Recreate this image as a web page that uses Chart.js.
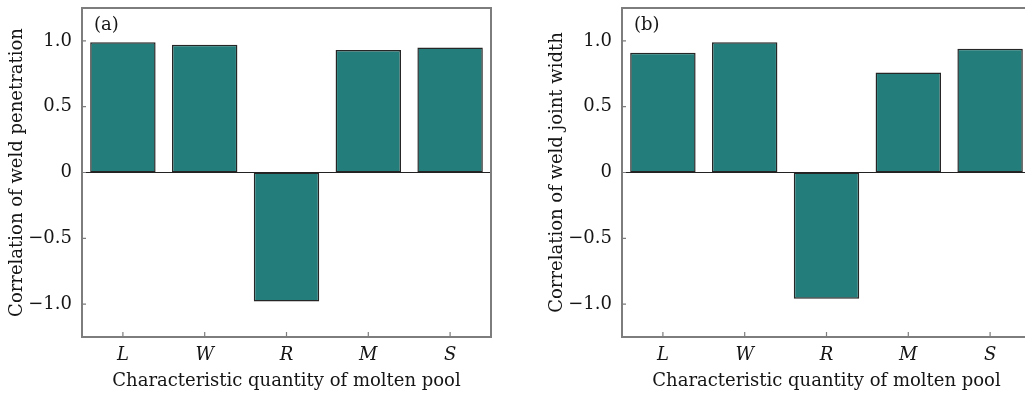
<!DOCTYPE html>
<html>
<head>
<meta charset="utf-8">
<script src="https://cdn.jsdelivr.net/npm/chart.js@4.4.1/dist/chart.umd.min.js"></script>
<style>
  html, body { margin: 0; padding: 0; background: #fff; overflow: hidden; width: 1025px; height: 396px; }
  .panel { position: absolute; top: 0; }
  #pa { left: 0; }
  #pb { left: 540px; }
</style>
</head>
<body>
<div class="panel" id="pa"><canvas id="ca" width="520" height="396"></canvas></div>
<div class="panel" id="pb"><canvas id="cb" width="520" height="396"></canvas></div>
<script>
// ---- data ----
const categories = ['L', 'W', 'R', 'M', 'S'];
const penetrationCorr = [0.99, 0.97, -0.98, 0.93, 0.95];
const widthCorr = [0.91, 0.99, -0.96, 0.76, 0.94];
const yTickValues = [-1.0, -0.5, 0, 0.5, 1.0];
const yTickLabels = ['\u22121.0', '\u22120.5', '0', '0.5', '1.0'];

const FONT = '"DejaVu Serif", "Liberation Serif", serif';
const BAR_COLOR = '#237e7b';
const FRAME_COLOR = '#7d7d7d';
const TEXT_COLOR = '#151515';

const framePlugin = {
  id: 'frame',
  afterDatasetsDraw(chart, args, opts) {
    const { ctx, chartArea: a, scales } = chart;
    ctx.save();
    const y0 = scales.y.getPixelForValue(0);
    ctx.strokeStyle = '#222';
    ctx.lineWidth = 1.2;
    ctx.beginPath();
    ctx.moveTo(a.left, y0);
    ctx.lineTo(a.right, y0);
    ctx.stroke();
    ctx.strokeStyle = FRAME_COLOR;
    ctx.lineWidth = 2;
    ctx.strokeRect(a.left, a.top, a.right - a.left, a.bottom - a.top);
    ctx.lineWidth = 1.2;
    ctx.beginPath();
    scales.y.ticks.forEach((t) => {
      const y = scales.y.getPixelForValue(t.value);
      ctx.moveTo(a.left, y);
      ctx.lineTo(a.left + 4, y);
    });
    categories.forEach((c, i) => {
      const x = scales.x.getPixelForValue(i);
      ctx.moveTo(x, a.bottom);
      ctx.lineTo(x, a.bottom - 5);
    });
    ctx.stroke();
    ctx.fillStyle = TEXT_COLOR;
    ctx.font = '18px ' + FONT;
    ctx.textBaseline = 'middle';
    ctx.textAlign = 'left';
    ctx.fillText(opts.label, a.left + 12, a.top + 17);
    ctx.restore();
  }
};

function makeChart(id, values, yTitle, label) {
  return new Chart(document.getElementById(id), {
    type: 'bar',
    data: {
      labels: categories,
      datasets: [{
        data: values,
        backgroundColor: BAR_COLOR,
        borderColor: '#262626',
        borderWidth: 1.5,
        borderSkipped: false,
        categoryPercentage: 1.0,
        barPercentage: 0.8
      }]
    },
    options: {
      responsive: false,
      devicePixelRatio: 1,
      animation: false,
      layout: { padding: { top: 8, right: 29, left: 0, bottom: 0 } },
      plugins: {
        legend: { display: false },
        tooltip: { enabled: false },
        frame: { label: label }
      },
      scales: {
        x: {
          type: 'category',
          offset: true,
          grid: { display: false, drawTicks: false },
          border: { display: false },
          ticks: { color: TEXT_COLOR, padding: 8, font: { family: FONT, size: 18, style: 'italic' } },
          title: { display: true, text: 'Characteristic quantity of molten pool', color: TEXT_COLOR,
                   font: { family: FONT, size: 18 }, padding: { top: 0, bottom: 4 } },
          afterFit(s) { s.height = 59; s.paddingLeft = 0; s.paddingRight = 0; }
        },
        y: {
          min: -1.25,
          max: 1.25,
          grid: { display: false, drawTicks: false },
          border: { display: false },
          afterBuildTicks(s) { s.ticks = yTickValues.map(v => ({ value: v })); },
          ticks: {
            color: TEXT_COLOR, padding: 10, font: { family: FONT, size: 18 },
            callback(v) { const i = yTickValues.indexOf(v); return i >= 0 ? yTickLabels[i] : ''; }
          },
          title: { display: true, text: yTitle, color: TEXT_COLOR,
                   font: { family: FONT, size: 18 }, padding: { top: 7, bottom: 0 } },
          afterFit(s) { s.width = 82; s.paddingTop = 0; s.paddingBottom = 0; }
        }
      }
    },
    plugins: [framePlugin]
  });
}

makeChart('ca', penetrationCorr, 'Correlation of weld penetration', '(a)');
makeChart('cb', widthCorr, 'Correlation of weld joint width', '(b)');
</script>
</body>
</html>
